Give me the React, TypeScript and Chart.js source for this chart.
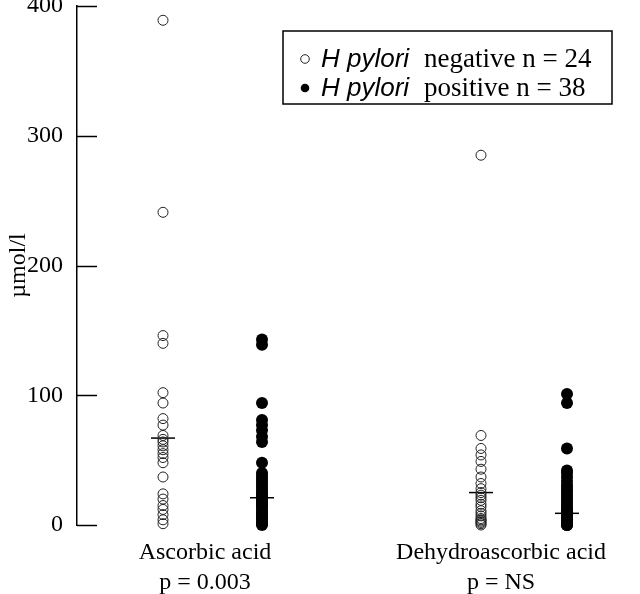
import React, { useEffect, useRef } from "react";
import { Chart, registerables } from "chart.js";

Chart.register(...registerables);

// ---- data ----
const CATEGORIES = ["Ascorbic acid", "Dehydroascorbic acid"];
const P_VALUES = ["p = 0.003", "p = NS"];
const Y_TICKS = [0, 100, 200, 300, 400];
const Y_TITLE = "µmol/l";

const LEGEND_SPECIES = ["H pylori", "H pylori"];
const LEGEND_TEXT = ["negative n = 24", "positive n = 38"];

// H pylori negative (n = 24)
const ASC_NEG = [389, 241, 146, 140, 102, 94, 82, 77, 69, 66, 64, 61, 58, 55, 52, 48, 37, 24, 20, 15, 12, 8, 4, 1];
const DHA_NEG = [285, 69, 59, 54, 49, 43, 37, 32, 28, 25, 23, 21, 19, 16, 14, 11, 9, 7, 5, 4, 3, 2, 1, 0];
// H pylori positive (n = 38)
const ASC_POS = [143, 139, 94, 81, 77, 73, 68, 64, 48, 40, 38, 36, 34, 32, 30, 28, 26, 24, 23, 22, 21, 20, 19, 18, 17, 16, 15, 14, 12, 10, 9, 8, 6, 5, 4, 2, 1, 0];
const DHA_POS = [101, 94, 59, 42, 40, 37, 34, 31, 29, 27, 25, 23, 21, 19, 17, 15, 13, 12, 11, 10, 9, 8, 7, 6, 5, 5, 4, 4, 3, 3, 2, 2, 1, 1, 1, 0, 0, 0];

const MEDIAN_NEG = [67, 25];
const MEDIAN_POS = [21, 9];

// x positions of columns on a linear x axis (group layout)
const NEG_X = [0.86, 4.04];
const POS_X = [1.85, 4.9];
const LABEL_X = [1.28, 4.24];
const X_MAX = 5.63;

const SERIF = '"Liberation Serif", "Times New Roman", serif';
const SANS = '"Liberation Sans", Arial, sans-serif';

const inwardTicks = {
  id: "inwardTicks",
  afterDraw(chart: any) {
    const { ctx, chartArea, scales } = chart;
    const y = scales.y;
    ctx.save();
    ctx.strokeStyle = "#000";
    ctx.lineWidth = 1.5;
    Y_TICKS.forEach((t) => {
      const py = Math.round(y.getPixelForValue(t)) + 0.5;
      ctx.beginPath();
      ctx.moveTo(chartArea.left, py);
      ctx.lineTo(chartArea.left + 20, py);
      ctx.stroke();
    });
    ctx.restore();
  },
};

const legendBox = {
  id: "legendBox",
  afterDraw(chart: any) {
    const ctx = chart.ctx;
    ctx.save();
    ctx.strokeStyle = "#000";
    ctx.lineWidth = 1.5;
    ctx.strokeRect(283, 31, 329, 73);
    const rows = [
      { baseline: 67, filled: false },
      { baseline: 96, filled: true },
    ];
    rows.forEach((r, i) => {
      const my = r.baseline - 8;
      ctx.beginPath();
      ctx.arc(305, my, 4.3, 0, Math.PI * 2);
      if (r.filled) {
        ctx.fillStyle = "#000";
        ctx.fill();
      } else {
        ctx.lineWidth = 1;
        ctx.strokeStyle = "#222";
        ctx.stroke();
      }
      ctx.fillStyle = "#000";
      ctx.textBaseline = "alphabetic";
      ctx.textAlign = "left";
      ctx.font = `italic 26px ${SANS}`;
      ctx.fillText(LEGEND_SPECIES[i], 321, r.baseline);
      ctx.font = `27px ${SERIF}`;
      ctx.fillText(LEGEND_TEXT[i], 424, r.baseline);
    });
    ctx.restore();
  },
};

function toPoints(xs: number, vals: number[]) {
  return vals.map((v) => ({ x: xs, y: v }));
}

export default function App() {
  const ref = useRef<HTMLCanvasElement | null>(null);

  useEffect(() => {
    if (!ref.current) return;
    const openStyle = {
      pointStyle: "circle",
      pointRadius: 5,
      pointBorderWidth: 1,
      pointBorderColor: "#222",
      pointBackgroundColor: "rgba(0,0,0,0)",
      showLine: false,
      clip: false as any,
    };
    const filledStyle = {
      pointStyle: "circle",
      pointRadius: 6,
      pointBorderWidth: 0,
      pointBorderColor: "#000",
      pointBackgroundColor: "#000",
      showLine: false,
      clip: false as any,
    };
    const lineStyle = {
      pointStyle: "line",
      pointRadius: 12,
      pointBorderWidth: 1.5,
      pointBorderColor: "#000",
      showLine: false,
      clip: false as any,
    };

    const chart = new Chart(ref.current, {
      type: "scatter",
      data: {
        datasets: [
          { label: "neg asc", data: toPoints(NEG_X[0], ASC_NEG), ...openStyle },
          { label: "pos asc", data: toPoints(POS_X[0], ASC_POS), ...filledStyle },
          { label: "neg dha", data: toPoints(NEG_X[1], DHA_NEG), ...openStyle },
          { label: "pos dha", data: toPoints(POS_X[1], DHA_POS), ...filledStyle },
          {
            label: "median neg",
            data: MEDIAN_NEG.map((m, i) => ({ x: NEG_X[i], y: m })),
            ...lineStyle,
          },
          {
            label: "median pos",
            data: MEDIAN_POS.map((m, i) => ({ x: POS_X[i], y: m })),
            ...lineStyle,
          },
        ] as any,
      },
      options: {
        animation: false,
        responsive: false,
        devicePixelRatio: 1,
        layout: { autoPadding: false, padding: { top: 6, left: 0, right: 0, bottom: 0 } },
        plugins: {
          legend: { display: false },
          tooltip: { enabled: false },
        },
        scales: {
          x: {
            type: "linear",
            min: 0,
            max: X_MAX,
            grid: { display: false, drawTicks: false },
            border: { display: false },
            afterBuildTicks: (scale: any) => {
              scale.ticks = LABEL_X.map((v) => ({ value: v }));
            },
            afterFit: (scale: any) => {
              scale.height = 69;
              scale.paddingLeft = 0;
              scale.paddingRight = 0;
            },
            ticks: {
              autoSkip: false,
              maxRotation: 0,
              padding: 13,
              color: "#000",
              font: { family: SERIF, size: 24, lineHeight: 1.25 },
              callback: (_v: any, i: number) => [CATEGORIES[i], P_VALUES[i]],
            },
          },
          y: {
            type: "linear",
            min: 0,
            max: 400,
            afterBuildTicks: (scale: any) => {
              scale.ticks = Y_TICKS.map((v) => ({ value: v }));
            },
            afterFit: (scale: any) => {
              scale.width = 77;
              scale.paddingTop = 0;
              scale.paddingBottom = 0;
            },
            grid: { display: true, drawOnChartArea: false, drawTicks: false, color: "#000" },
            border: { display: true, color: "#000", width: 1.5 },
            ticks: {
              padding: 14,
              color: "#000",
              font: { family: SERIF, size: 24 },
            },
            title: {
              display: true,
              text: Y_TITLE,
              color: "#000",
              font: { family: SERIF, size: 24 },
              padding: { top: 4, bottom: 0 },
            },
          },
        },
      } as any,
      plugins: [inwardTicks, legendBox],
    });
    return () => chart.destroy();
  }, []);

  return (
    <div style={{ position: "absolute", left: 0, top: 0, width: 640, height: 594, background: "#fff" }}>
      <canvas ref={ref} width={640} height={594} />
    </div>
  );
}
